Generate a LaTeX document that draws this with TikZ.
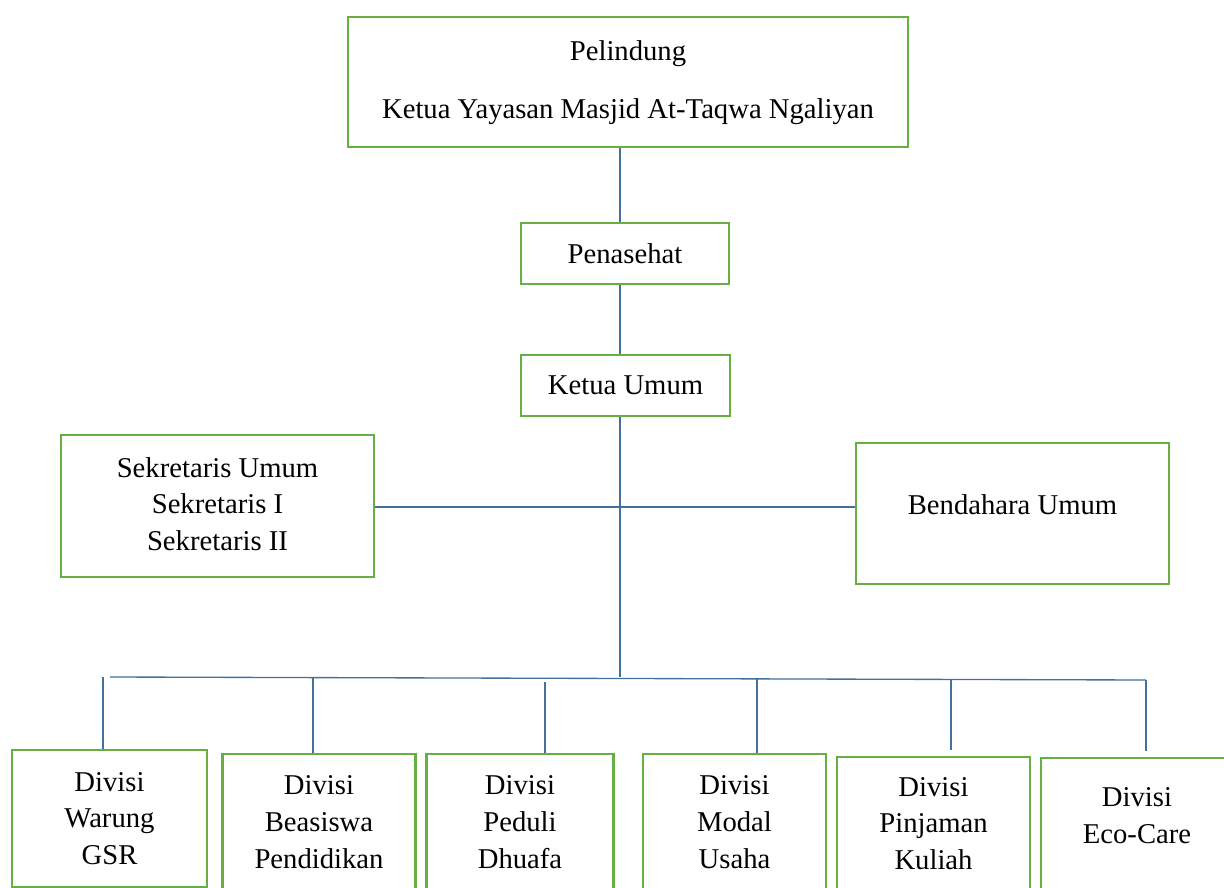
\documentclass[tikz,border=0pt]{standalone}
\usepackage{fontspec}
\setmainfont{Liberation Serif}
\usepackage{xcolor}
\usepackage{tikz}
\definecolor{boxgreen}{HTML}{66AF42}
\definecolor{lineblue}{HTML}{41719C}

\begin{document}
\begin{tikzpicture}[x=0.75pt,y=-0.75pt,
  box/.style={draw=boxgreen,line width=2.2pt,inner sep=0pt,align=center,
    font=\fontsize{21.5}{27.5}\selectfont},
  link/.style={draw=lineblue,line width=1pt}]
\clip (0,0) rectangle (1224,888);
\fill[white] (0,0) rectangle (1224,888);

\node[box,minimum width=420pt,minimum height=97.5pt,text depth=4pt] (pelindung) at (628,82)
  {Pelindung\\[16pt]Ketua Yayasan Masjid At-Taqwa Ngaliyan};
\node[box,minimum width=156pt,minimum height=45.75pt] (penasehat) at (625,253.5) {Penasehat};
\node[box,minimum width=156.75pt,minimum height=45.75pt] (ketua) at (625.5,385.5) {Ketua Umum};
\node[box,minimum width=234.75pt,minimum height=106.5pt,text depth=3pt] (sekretaris) at (217.5,506)
  {Sekretaris Umum\\Sekretaris I\\Sekretaris II};
\node[box,minimum width=234.75pt,minimum height=105.75pt,text depth=14pt] (bendahara) at (1012.5,513.5)
  {Bendahara Umum};

\node[box,minimum width=146.25pt,minimum height=102.75pt] (warung) at (109.5,818.5) {Divisi\\Warung\\GSR};
\node[box,minimum width=144.75pt,minimum height=102pt] (beasiswa) at (319,822) {Divisi\\Beasiswa\\Pendidikan};
\node[box,minimum width=140.25pt,minimum height=102pt] (peduli) at (520,822) {Divisi\\Peduli\\Dhuafa};
\node[box,minimum width=137.25pt,minimum height=102pt] (modal) at (734.5,822) {Divisi\\Modal\\Usaha};
\node[box,minimum width=144.75pt,minimum height=99.75pt] (pinjaman) at (933.5,823.5) {Divisi\\Pinjaman\\Kuliah};
\node[box,minimum width=144pt,minimum height=100.5pt,text depth=14pt] (eco) at (1137,825) {Divisi\\Eco-Care};

% garis utama
\coordinate (trunk) at (620,677);
\coordinate (cross) at (620,507);
\coordinate (busL) at (110,677);
\coordinate (busR) at (1146,680);

\draw[link] (pelindung.south -| trunk) -- (penasehat.north -| trunk);
\draw[link] (penasehat.south -| trunk) -- (ketua.north -| trunk);
\draw[link] (ketua.south -| trunk) -- (trunk);
\draw[link] (sekretaris.east |- cross) -- (bendahara.west |- cross);
\draw[link] (busL) -- (busR);

% garis ke divisi
\coordinate (d1) at (103,677);
\coordinate (d2) at (313,678);
\coordinate (d3) at (545,682);
\coordinate (d4) at (757,679);
\coordinate (d5) at (951,679);
\coordinate (d6) at (1146,680);
\draw[link] (d1) -- (d1 |- warung.north);
\draw[link] (d2) -- (d2 |- beasiswa.north);
\draw[link] (d3) -- (d3 |- peduli.north);
\draw[link] (d4) -- (d4 |- modal.north);
\draw[link,shorten >=4pt] (d5) -- (d5 |- pinjaman.north);
\draw[link,shorten >=4pt] (d6) -- (d6 |- eco.north);
\end{tikzpicture}
\end{document}
